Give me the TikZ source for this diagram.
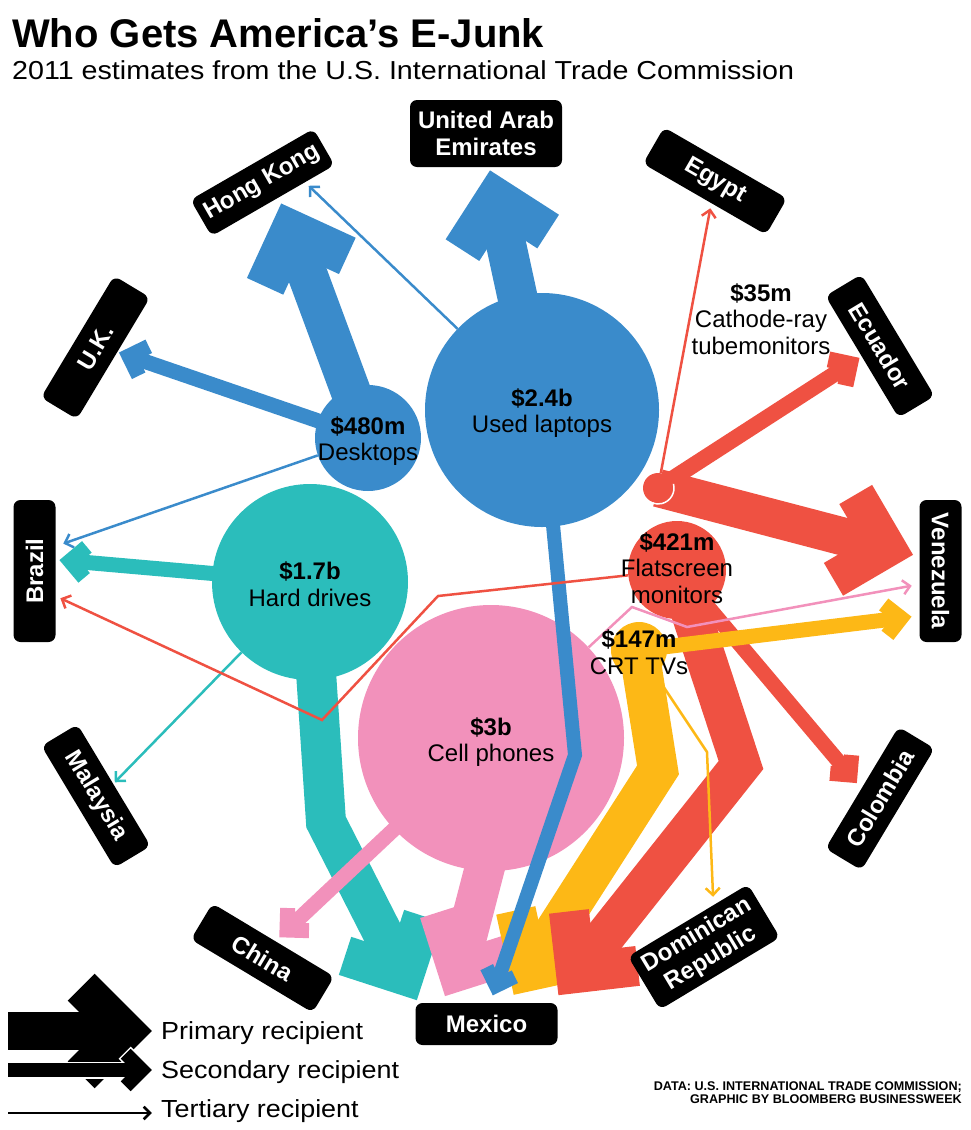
\documentclass[tikz,border=0pt]{standalone}
\usepackage{fontspec}
\setmainfont{Liberation Sans}
\usepackage{graphicx}
\usetikzlibrary{calc}
\definecolor{cblue}{HTML}{3A8BCB}
\definecolor{cteal}{HTML}{2BBDBB}
\definecolor{cpink}{HTML}{F291BB}
\definecolor{cred}{HTML}{EF5142}
\definecolor{cyel}{HTML}{FDB816}
% chevron head: colour, line width, arm length, tip centre, point behind
\newcommand\chevr[5]{\draw[#1, line width=#2pt, line cap=butt, line join=miter, miter limit=10]
  ($(#4)!#3pt!45:(#5)$) -- (#4) -- ($(#4)!#3pt!-45:(#5)$);}
\begin{document}
\begin{tikzpicture}[x=1pt,y=-1pt,
  country/.style={fill=black, text=white, rounded corners=7pt, minimum width=142pt,
    minimum height=42pt, inner sep=0pt, align=center, font=\bfseries\fontsize{24}{27}\selectfont},
  bub/.style={circle, inner sep=0pt, minimum size=#1},
  lbl/.style={align=center, inner sep=0pt, text=black, font=\fontsize{24}{26.5}\selectfont},
  shaft/.style={line cap=butt, line join=miter},
  thinline/.style={line width=2.5pt, line cap=butt, line join=miter}]
\useasboundingbox (0,0) rectangle (970,1130);

% ---------- coordinates of heads and bends ----------
\coordinate (pHK) at (291,230);
\coordinate (pUK) at (129,356);
\coordinate (pBRb) at (65,543);
\coordinate (pUAE) at (496,198);
\coordinate (pHKt) at (310,187);
\coordinate (bLM) at (575,755);
\coordinate (pMXb) at (496,986);
\coordinate (pBRt) at (70,561);
\coordinate (pMY) at (116,781);
\coordinate (bHM) at (326,822);
\coordinate (pMXt) at (404,975);
\coordinate (pCN) at (287,930);
\coordinate (pMXp) at (458,971);
\coordinate (qMXp) at (504,882);
\coordinate (b1VEp) at (632,607);
\coordinate (b2VEp) at (687,627);
\coordinate (pVEp) at (910,586);
\coordinate (pEG) at (710,210);
\coordinate (pEC) at (850,364);
\coordinate (pVEr) at (887,548);
\coordinate (b1BRr) at (438,596);
\coordinate (b2BRr) at (322,720);
\coordinate (pBRr) at (62,599);
\coordinate (bFD) at (741,765);
\coordinate (pDR) at (576,973);
\coordinate (pCO) at (850,775);
\coordinate (pVEy) at (901,618);
\coordinate (bCM) at (658,770);
\coordinate (pMXy) at (529,971);
\coordinate (bCD) at (707,752);
\coordinate (pDRy) at (713,895);

% ---------- blue ----------
\node[bub=234pt, fill=cblue] (lap) at (542,410) {};
\node[bub=106pt, fill=cblue] (desk) at (368,438) {};
\draw[cblue, line width=40pt, shaft] (desk.center) -- (pHK);
\chevr{cblue}{40}{62}{pHK}{desk.center}
\draw[cblue, line width=15pt, shaft] (desk.center) -- (pUK);
\chevr{cblue}{15}{22}{pUK}{desk.center}
\draw[cblue, thinline] (desk) -- (pBRb);
\chevr{cblue}{2.5}{10}{pBRb}{desk.center}
\draw[cblue, line width=40pt, shaft] (lap.center) -- (pUAE);
\chevr{cblue}{40}{62}{pUAE}{lap.center}
\draw[cblue, thinline] (lap) -- (pHKt);
\chevr{cblue}{2.5}{10}{pHKt}{lap.center}

% ---------- teal ----------
\node[bub=196pt, fill=cteal] (hd) at (310,582) {};
\draw[cteal, line width=15pt, shaft] (hd.center) -- (pBRt);
\chevr{cteal}{15}{22}{pBRt}{hd.center}
\draw[cteal, thinline] (hd) -- (pMY);
\chevr{cteal}{2.5}{10}{pMY}{hd.center}
\draw[cteal, line width=40pt, shaft] (hd.center) -- (bHM) -- (pMXt);
\chevr{cteal}{40}{62}{pMXt}{bHM}

% ---------- pink ----------
\node[bub=266pt, fill=cpink] (cell) at (491,738) {};
\coordinate (sMXp) at ($(cell.center)+(14,52)$);
\draw[cpink, line width=40pt, shaft] (sMXp) -- (pMXp);
\chevr{cpink}{40}{62}{pMXp}{qMXp}
\draw[cpink, line width=15pt, shaft] (cell.center) -- (pCN);
\chevr{cpink}{15}{22}{pCN}{cell.center}

% ---------- red (cathode-ray tube monitors) ----------
\node[bub=30pt, fill=cred] (c35) at (658,488) {};
\draw[cred, thinline] (c35) -- (pEG);
\chevr{cred}{2.5}{10}{pEG}{c35.center}
\draw[cred, line width=16pt, shaft] (c35.center) -- (pEC);
\chevr{cred}{16}{22}{pEC}{c35.center}
\draw[cred, line width=38pt, shaft] (c35.center) -- (pVEr);
\chevr{cred}{38}{62}{pVEr}{c35.center}
\draw[white, line width=1.5pt] ($(c35.center)+(-15:16)$) arc[start angle=-15, end angle=110, radius=16];

% ---------- yellow to Mexico ----------
\node[bub=56pt, fill=cyel] (crt) at (639,650) {};
\draw[cyel, line width=40pt, shaft] (crt.center) -- (bCM) -- (pMXy);
\chevr{cyel}{40}{62}{pMXy}{bCM}

% ---------- red (flatscreens) ----------
\node[bub=98pt, fill=cred] (flat) at (677,570) {};
\draw[cred, line width=40pt, shaft] (flat.center) -- (bFD) -- (pDR);
\chevr{cred}{40}{62}{pDR}{bFD}
\draw[cred, line width=15pt, shaft] (flat.center) -- (pCO);
\chevr{cred}{15}{20}{pCO}{flat.center}

% ---------- yellow to Venezuela ----------
\draw[cyel, line width=15pt, shaft] (crt.center) -- (pVEy);
\chevr{cyel}{15}{22}{pVEy}{crt.center}

% ---------- blue laptops to Mexico ----------
\draw[cblue, line width=14pt, shaft] (lap.center) -- (bLM) -- (pMXb);
\chevr{cblue}{14}{21}{pMXb}{bLM}

% ---------- tertiary lines on top ----------
\draw[cred, thinline] (flat) -- (b1BRr) -- (b2BRr) -- (pBRr);
\chevr{cred}{2.5}{10}{pBRr}{b2BRr}
\draw[cpink, thinline] (cell) -- (b1VEp) -- (b2VEp) -- (pVEp);
\chevr{cpink}{2.5}{10}{pVEp}{b2VEp}
\draw[cyel, thinline] (crt) -- (bCD) -- (pDRy);
\chevr{cyel}{2.5}{10}{pDRy}{bCD}

% ---------- circle labels ----------
\node[lbl] (tlap) at (542,413) {\textbf{\$2.4b}\\Used laptops};
\node[lbl] (tdesk) at (368,441) {\textbf{\$480m}\\Desktops};
\node[lbl] (thd) at (310,584) {\textbf{\$1.7b}\\Hard drives};
\node[lbl] (tcell) at (491,742) {\textbf{\$3b}\\Cell phones};
\node[lbl] (tflat) at (677,568) {\textbf{\$421m}\\Flatscreen\\monitors};
\node[lbl] (tcrt) at (639,652) {\textbf{\$147m}\\CRT TVs};
\node[lbl] (tc35) at (761,319) {\textbf{\$35m}\\Cathode-ray\\tubemonitors};

% ---------- country labels ----------
\node[country, minimum width=152pt, minimum height=67pt] (uae) at (486,133.5) {United Arab\\Emirates};
\node[country, rotate=30] (hk) at (262.5,182.5) {Hong Kong};
\node[country, rotate=-30] (egypt) at (715,181) {Egypt};
\node[country, rotate=59] (uk) at (95.5,347.5) {U.K.};
\node[country, rotate=-59] (ecuador) at (880,346) {Ecuador};
\node[country, rotate=90] (brazil) at (34.5,571) {Brazil};
\node[country, rotate=-90] (venezuela) at (940.5,571) {Venezuela};
\node[country, rotate=-59] (malaysia) at (96,796) {Malaysia};
\node[country, rotate=59] (colombia) at (880,798.5) {Colombia};
\node[country, rotate=-31] (china) at (262.5,958) {China};
\node[country] (mexico) at (486.5,1024) {Mexico};
\node[country, rotate=31, minimum width=140pt, minimum height=62pt] (dr) at (704,947) {Dominican\\Republic};

% ---------- legend ----------
\coordinate (lg1s) at (8,1031);
\coordinate (lg1P) at (125,1031);
\coordinate (lg2s) at (8,1070);
\coordinate (lg2P) at (142,1070);
\coordinate (lg3s) at (8,1113);
\coordinate (lg3P) at (150,1113);
\draw[black, line width=38pt, shaft] (lg1s) -- (lg1P);
\chevr{black}{38}{62}{lg1P}{lg1s}
\draw[white, line width=17pt, shaft] (lg2s) -- (lg2P);
\chevr{white}{17}{24.5}{lg2P}{lg2s}
\draw[black, line width=14pt, shaft] (lg2s) -- (lg2P);
\chevr{black}{14}{23}{lg2P}{lg2s}
\draw[black, thinline] (lg3s) -- (lg3P);
\chevr{black}{2.5}{9}{lg3P}{lg3s}
\node[anchor=base west, inner sep=0pt, font=\fontsize{24.7}{24.7}\selectfont] (lgt1) at (161,1039) {\scalebox{1.09}[1]{Primary recipient}};
\node[anchor=base west, inner sep=0pt, font=\fontsize{24.7}{24.7}\selectfont] (lgt2) at (161,1078) {\scalebox{1.09}[1]{Secondary recipient}};
\node[anchor=base west, inner sep=0pt, font=\fontsize{24.7}{24.7}\selectfont] (lgt3) at (161,1117) {\scalebox{1.09}[1]{Tertiary recipient}};

% ---------- title and credits ----------
\node[anchor=base west, inner sep=0pt, font=\bfseries\fontsize{40}{40}\selectfont] (title) at (12,47) {Who Gets America’s E-Junk};
\node[anchor=base west, inner sep=0pt, font=\fontsize{26}{26}\selectfont] (sub) at (12,79) {\scalebox{1.102}[1]{2011 estimates from the U.S. International Trade Commission}};
\node[anchor=base east, inner sep=0pt, font=\bfseries\fontsize{12.6}{12.6}\selectfont] (cr1) at (962,1090) {DATA: U.S. INTERNATIONAL TRADE COMMISSION;};
\node[anchor=base east, inner sep=0pt, font=\bfseries\fontsize{12.6}{12.6}\selectfont] (cr2) at (962,1103) {GRAPHIC BY BLOOMBERG BUSINESSWEEK};
\end{tikzpicture}
\end{document}
